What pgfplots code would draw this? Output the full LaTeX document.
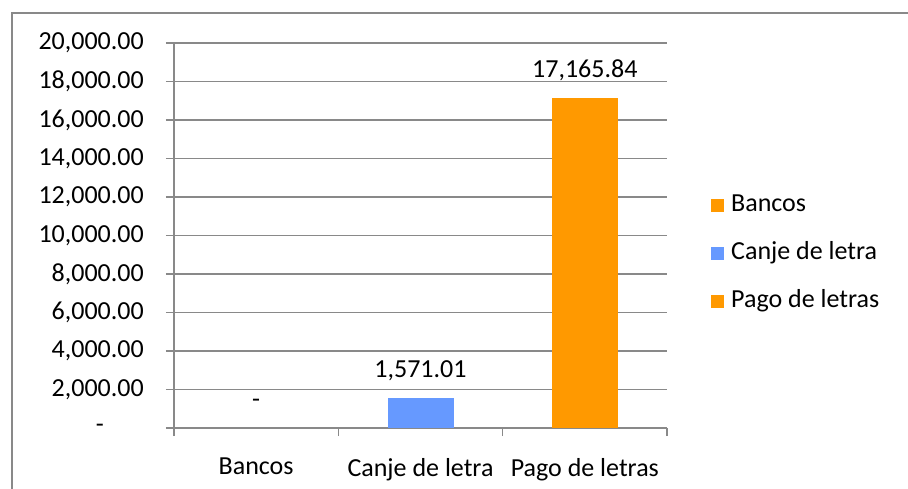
\documentclass[border=0pt]{standalone}
\usepackage{fontspec}
\setmainfont{Carlito}
\usepackage{pgfplots}
\pgfplotsset{compat=1.18}
\definecolor{barorange}{HTML}{FF9900}
\definecolor{barblue}{HTML}{6699FF}
\definecolor{linegray}{HTML}{898989}
\begin{document}
\fontsize{26}{31}\selectfont
\begin{tikzpicture}[x=1pt,y=1pt]
\path[use as bounding box] (0,0) rectangle (908,488);
\draw[linegray, line width=1.5pt] (12,-2) -- (12,475) -- (910,475);
\begin{axis}[
  at={(174pt,60pt)}, anchor=south west,
  scale only axis, width=493pt, height=385pt,
  xmin=-0.5, xmax=2.5, ymin=0, ymax=20000,
  scaled y ticks=false,
  axis x line*=bottom, axis y line*=left,
  axis line style={draw=linegray, line width=1.5pt, -},
  ybar, bar width=66pt, bar shift=0pt,
  ymajorgrids, grid style={draw=linegray, line width=1.5pt},
  tick align=outside, major tick length=8pt,
  ytick={0,2000,...,20000},
  yticklabels={{-\rule{40pt}{0pt}},{2,000.00},{4,000.00},{6,000.00},{8,000.00},{10,000.00},{12,000.00},{14,000.00},{16,000.00},{18,000.00},{20,000.00}},
  ytick style={draw=linegray, line width=1.5pt},
  yticklabel style={anchor=east, inner sep=0pt, xshift=-22pt},
  xtick={0,1,2},
  xticklabels={Bancos, Canje de letra, Pago de letras},
  xtick style={draw=none},
  xticklabel style={anchor=north, inner sep=0pt, yshift=-22pt},
  extra x ticks={-0.5,0.5,1.5,2.5},
  extra x tick labels={},
  extra x tick style={grid=none, xtick style={draw=linegray, line width=1.5pt}},
  nodes near coords,
  every node near coord/.append style={inner sep=0pt, text depth=0pt, yshift=20pt, text=black},
  legend image code/.code={\fill[#1, draw=none] (0pt,-6.5pt) rectangle (13pt,6.5pt); \path (20pt,0pt);},
  legend style={draw=none, fill=none, at={(1,0.5)}, anchor=west, xshift=44pt, yshift=-17.5pt,
    inner sep=0pt, row sep=26pt,
    nodes={inner sep=0pt, text height=17pt, text depth=5pt}},
  legend cell align=left,
]
\addplot[fill=none, draw=none, forget plot, nodes near coords={-}] coordinates {(0,0)};
\addlegendimage{fill=barorange, draw=none}
\addplot[fill=barblue, draw=none, nodes near coords={1,571.01}] coordinates {(1,1571.01)};
\addplot[fill=barorange, draw=none, nodes near coords={17,165.84}] coordinates {(2,17165.84)};
\legend{Bancos, Canje de letra, Pago de letras}
\end{axis}
\end{tikzpicture}
\end{document}
